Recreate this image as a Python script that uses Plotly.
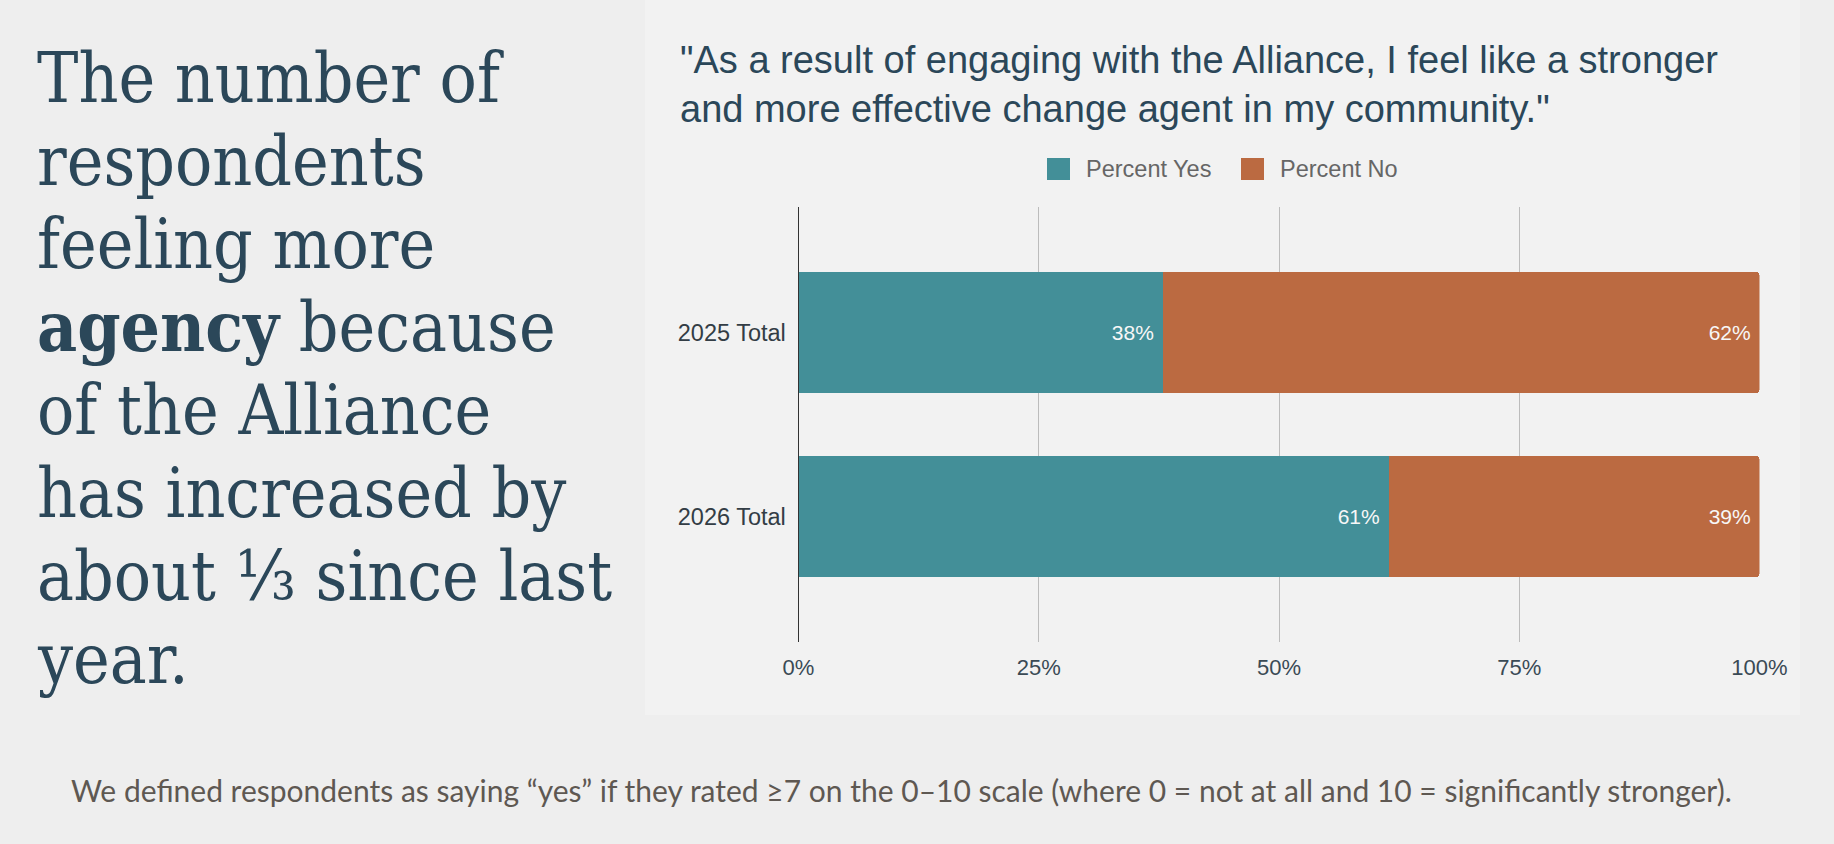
import plotly.graph_objects as go

# datos
categorias = ["2025 Total", "2026 Total"]
pct_yes = [37.9, 61.4]
pct_no = [62.1, 38.6]
series = ["Percent Yes", "Percent No"]
tick_vals = [0, 25, 50, 75, 100]
tick_text = ["0%", "25%", "50%", "75%", "100%"]

W, H = 1834, 844
TEAL = "#438f98"
ORANGE = "#bb6a41"
INK = "#2b4759"


def px(x):
    return x / W


def py(y):
    return 1 - y / H


fig = go.Figure()

fig.add_trace(go.Bar(
    y=categorias, x=pct_yes, name=series[0], orientation="h",
    marker=dict(color=TEAL, line_width=0),
    texttemplate="%{x:.0f}%\u00a0", textposition="inside", insidetextanchor="end",
    textfont=dict(family="Liberation Sans, Arial", size=21, color="#f7f7f7"),
    showlegend=False,
))
fig.add_trace(go.Bar(
    y=categorias, x=pct_no, name=series[1], orientation="h",
    marker=dict(color=ORANGE, line_width=0),
    texttemplate="%{x:.0f}%\u00a0", textposition="inside", insidetextanchor="end",
    textfont=dict(family="Liberation Sans, Arial", size=21, color="#f7f7f7"),
    showlegend=False,
))

# panel del grafico
shapes = [dict(type="rect", xref="paper", yref="paper", x0=px(645), x1=px(1800), y0=py(715), y1=1,
               fillcolor="#f2f2f2", line_width=0, layer="below")]

annotations = []

# titular izquierdo
head_lines = ["The number of", "respondents", "feeling more", "<b>agency</b> because",
              "of the Alliance", "has increased by", "about \u2153 since last", "year."]
F_HEAD = 69
for i, line in enumerate(head_lines):
    base = 101.7 + 83 * i
    annotations.append(dict(
        text=line, xref="paper", yref="paper", x=px(35), y=py(base - 0.346 * F_HEAD),
        xanchor="left", yanchor="middle", showarrow=False,
        font=dict(family="DejaVu Serif Condensed, DejaVu Serif", size=F_HEAD, color=INK),
    ))

# titulo del grafico
annotations.append(dict(
    text='"As a result of engaging with the Alliance, I feel like a stronger<br>'
         'and more effective change agent in my community."',
    xref="paper", yref="paper", x=px(678), y=py(37.5), xanchor="left", yanchor="top",
    align="left", showarrow=False,
    font=dict(family="Liberation Sans, Arial", size=38, color=INK),
))

# leyenda
leg = [(1047, 1084, TEAL), (1241, 1278, ORANGE)]
for (sx, tx, col), name in zip(leg, series):
    shapes.append(dict(type="rect", xref="paper", yref="paper", x0=px(sx), x1=px(sx + 23),
                       y0=py(180), y1=py(158), fillcolor=col, line_width=0))
    annotations.append(dict(
        text=name, xref="paper", yref="paper", x=px(tx), y=py(169),
        xanchor="left", yanchor="middle", showarrow=False,
        font=dict(family="Liberation Sans, Arial", size=23.5, color="#666666"),
    ))

# nota al pie
annotations.append(dict(
    text="We defined respondents as saying \u201cyes\u201d if they rated \u22657 on the 0\u201310 scale "
         "(where 0 = not at all and 10 = significantly stronger).",
    xref="paper", yref="paper", x=px(69), y=py(790), xanchor="left", yanchor="middle",
    showarrow=False,
    font=dict(family="Lato", size=30, color="#5e5852"),
))

fig.update_layout(
    width=W, height=H,
    margin=dict(l=0, r=0, t=0, b=0),
    paper_bgcolor="#eeeeee", plot_bgcolor="rgba(0,0,0,0)",
    barmode="stack", bargap=0.342, barcornerradius=3,
    shapes=shapes, annotations=annotations,
    font=dict(family="Liberation Sans, Arial", color="#3a4a55"),
)
fig.update_xaxes(
    domain=[px(798.5), px(1759.5)], range=[0, 100], tickvals=tick_vals, ticktext=tick_text,
    showgrid=True, gridcolor="#bcbcbc", gridwidth=1, zeroline=False, showline=False,
    ticks="", tickfont=dict(size=22, color="#3a4a55"), ticklabelstandoff=10, automargin=False,
)
fig.update_yaxes(
    domain=[py(642), py(207)], range=[1.683, -0.683], type="category",
    showgrid=False, zeroline=False, showline=True, linecolor="#333333", linewidth=1,
    ticks="", tickfont=dict(size=23.5, color="#333d45"), ticklabelstandoff=7, automargin=False,
)

fig.write_html("out.html", config={"displayModeBar": False},
               post_script="document.body.style.margin='0';")
